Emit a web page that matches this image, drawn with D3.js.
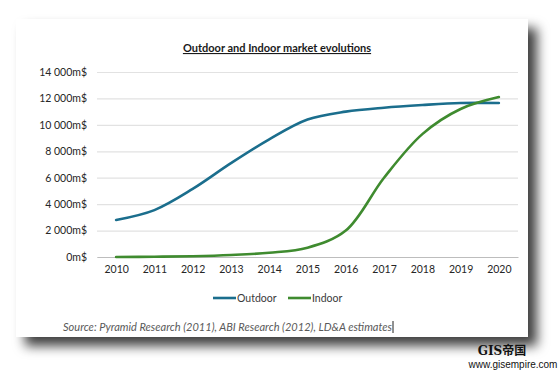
<!DOCTYPE html>
<html>
<head>
<meta charset="utf-8">
<script src="https://cdn.jsdelivr.net/npm/d3@7"></script>
<style>
  body { margin: 0; background: #fff; }
  text { font-family: Lato, "Open Sans", sans-serif; }
</style>
</head>
<body>
<div id="vis"></div>
<script>
// chart data
let years = ['2010', '2011', '2012', '2013', '2014', '2015', '2016', '2017', '2018', '2019', '2020'];
let outdoor = [2800, 3550, 5150, 7100, 8900, 10400, 11000, 11300, 11500, 11650, 11650];
let indoor = [0, 20, 60, 150, 320, 700, 2000, 6000, 9300, 11200, 12100];
let yTicks = [0, 2000, 4000, 6000, 8000, 10000, 12000, 14000];
let seriesNames = ['Outdoor', 'Indoor'];
let seriesColors = ['#1b6e8d', '#3f8b2f'];

let W = 560, H = 377;
let margin = { top: 72, left: 97, right: 42, bottom: 120 };
let plotW = W - margin.left - margin.right,
  plotH = H - margin.top - margin.bottom;

let svg = d3.select('#vis')
  .append('svg')
  .attr('width', W)
  .attr('height', H);

// card with drop shadow
let defs = svg.append('defs');
let f = defs.append('filter').attr('id', 'shadow')
  .attr('x', '-5%').attr('y', '-5%').attr('width', '115%').attr('height', '125%');
f.append('feDropShadow')
  .attr('dx', 9).attr('dy', 9)
  .attr('stdDeviation', 6)
  .attr('flood-color', '#000')
  .attr('flood-opacity', 0.75);

svg.append('rect')
  .attr('x', 16).attr('y', 19)
  .attr('width', 512).attr('height', 318)
  .attr('fill', '#fff')
  .attr('filter', 'url(#shadow)');

// title
svg.append('text')
  .attr('x', 277).attr('y', 52)
  .attr('text-anchor', 'middle')
  .style('font-size', '11px')
  .style('font-weight', 'bold')
  .style('text-decoration', 'underline')
  .attr('fill', '#1a1a1a')
  .text('Outdoor and Indoor market evolutions');

let g = svg.append('g')
  .attr('transform', `translate(${margin.left},${margin.top})`);

let x = d3.scalePoint()
  .domain(years)
  .range([0, plotW])
  .padding(0.5);

let y = d3.scaleLinear()
  .domain([0, 14000])
  .range([plotH, 0]);

// gridlines + y labels
let fmt = v => (v === 0 ? '0' : d3.format(',')(v).replace(',', ' ')) + 'm$';

g.append('g')
  .call(d3.axisLeft(y).tickValues(yTicks).tickSize(-plotW).tickFormat(fmt).tickPadding(10))
  .call(a => a.select('.domain').remove())
  .call(a => a.selectAll('line').attr('stroke', '#e2e2e2').attr('stroke-width', 1.2))
  .call(a => a.selectAll('text').attr('fill', '#262626').style('font-size', '10.5px'));

// x axis
g.append('g')
  .attr('transform', `translate(0,${plotH})`)
  .call(d3.axisBottom(x).tickSize(0).tickPadding(9))
  .call(a => a.select('.domain').attr('stroke', '#bdbdbd').attr('stroke-width', 1.2))
  .call(a => a.selectAll('text').attr('fill', '#262626').style('font-size', '10.5px'));

// lines
let line = d3.line()
  .x((d, i) => x(years[i]))
  .y(d => y(d))
  .curve(d3.curveCatmullRom.alpha(0.5));

[outdoor, indoor].forEach((s, i) => {
  g.append('path')
    .datum(s)
    .attr('fill', 'none')
    .attr('stroke', seriesColors[i])
    .attr('stroke-width', 2.6)
    .attr('stroke-linecap', 'round')
    .attr('d', line);
});

// legend
let legendX = [213, 288];
seriesNames.forEach((n, i) => {
  svg.append('line')
    .attr('x1', legendX[i]).attr('x2', legendX[i] + 23)
    .attr('y1', 298).attr('y2', 298)
    .attr('stroke', seriesColors[i])
    .attr('stroke-width', 2.6);
  svg.append('text')
    .attr('x', legendX[i] + 24).attr('y', 302)
    .style('font-size', '10.5px')
    .attr('fill', '#3a3a3a')
    .text(n);
});

// source
svg.append('text')
  .attr('x', 63).attr('y', 331)
  .style('font-size', '10.5px')
  .style('font-style', 'italic')
  .attr('fill', '#595959')
  .attr('textLength', 329)
  .attr('lengthAdjust', 'spacingAndGlyphs')
  .text('Source: Pyramid Research (2011), ABI Research (2012), LD&A estimates');
svg.append('line')
  .attr('x1', 393).attr('x2', 393)
  .attr('y1', 321).attr('y2', 333)
  .attr('stroke', '#222').attr('stroke-width', 1);

// watermark
svg.append('text')
  .attr('x', 502).attr('y', 355)
  .attr('text-anchor', 'middle')
  .style('font-family', '"DejaVu Serif", "Noto Sans CJK SC", serif')
  .style('font-size', '12px')
  .style('font-weight', 'bold')
  .attr('fill', '#111')
  .text('GIS帝国');
svg.append('text')
  .attr('x', 513).attr('y', 368)
  .attr('text-anchor', 'middle')
  .style('font-family', '"Liberation Sans", Arial, sans-serif')
  .style('font-size', '10px')
  .attr('fill', '#111')
  .text('www.gisempire.com');
</script>
</body>
</html>
